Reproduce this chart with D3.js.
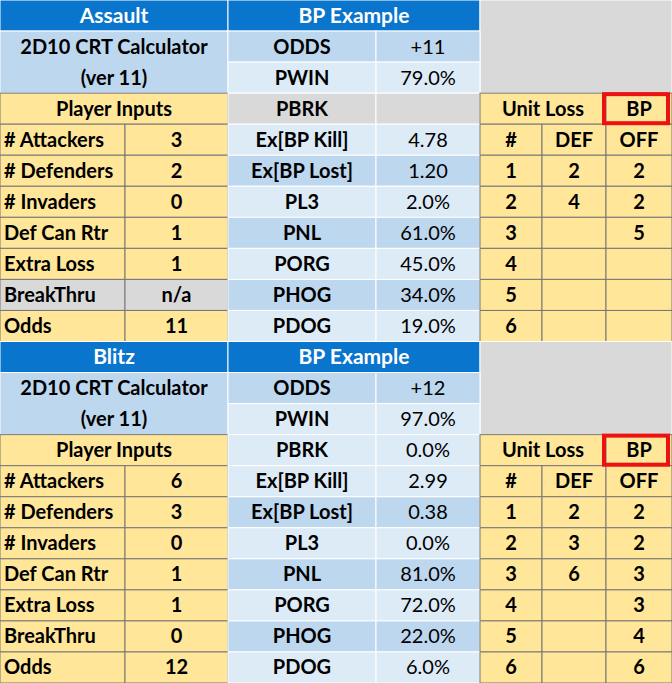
<!DOCTYPE html><html><head><meta charset="utf-8"><script src="https://cdn.jsdelivr.net/npm/d3@7"></script>
<style>body{margin:0;background:#fff}</style></head><body><svg id="c" width="672" height="683"></svg>
<script>
const titles=["Assault","Blitz"];
const oddsVals=["+11","+12"];
const pwinVals=["79.0%","97.0%"];
const pbrkVals=["","0.0%"];
const inputLabels=["# Attackers","# Defenders","# Invaders","Def Can Rtr","Extra Loss","BreakThru","Odds"];
const inputVals=[["3","2","0","1","1","n/a","11"],["6","3","0","1","1","0","12"]];
const statLabels=["Ex[BP Kill]","Ex[BP Lost]","PL3","PNL","PORG","PHOG","PDOG"];
const statVals=[["4.78","1.20","2.0%","61.0%","45.0%","34.0%","19.0%"],["2.99","0.38","0.0%","81.0%","72.0%","22.0%","6.0%"]];
const lossNum=["1","2","3","4","5","6"];
const lossDef=[["2","4","","","",""],["2","3","6","","",""]];
const lossOff=[["2","2","5","","",""],["2","2","3","3","4","6"]];

const colEdges=[0,125,228,376,480,542,606,672];
const x=d3.scaleOrdinal().domain(d3.range(8)).range(colEdges);
const y=d3.scaleLinear().domain([0,22]).range([0,683]);
const svg=d3.select("#c");
const BLUE="#0A75CC",LB="#BDD7EE",VLB="#DDEBF7",YEL="#FFE699",GR="#D9D9D9";
const cells=[];
function cell(r,c0,c1,t,fill,opt={}){cells.push({r,c0,c1,rs:opt.rs||1,t,fill,color:opt.color||"#000",stroke:opt.stroke||"#fff",anchor:opt.anchor||"middle",size:opt.size||20});}
[0,1].forEach(b=>{
  const o=b*11;
  cell(o,0,2,titles[b],BLUE,{color:"#fff",size:21});
  cell(o,2,4,"BP Example",BLUE,{color:"#fff",size:21});
  cell(o,4,7,"",GR,{rs:3});
  cell(o+1,0,2,"",LB,{rs:2});
  cell(o+1,2,3,"ODDS",LB);cell(o+1,3,4,oddsVals[b],LB);
  cell(o+2,2,3,"PWIN",VLB);cell(o+2,3,4,pwinVals[b],VLB);
  cell(o+3,0,2,"Player Inputs",YEL,{stroke:"#777"});
  const pf=b===0?GR:VLB;
  cell(o+3,2,3,"PBRK",pf);cell(o+3,3,4,pbrkVals[b],pf);
  cell(o+3,4,6,"Unit Loss",YEL,{stroke:"#777"});
  cell(o+3,6,7,"BP",YEL,{stroke:"#777"});
  inputLabels.forEach((l,i)=>{
    const f=(b===0&&i===5)?GR:YEL;
    cell(o+4+i,0,1,l,f,{stroke:"#777",anchor:"start"});
    cell(o+4+i,1,2,inputVals[b][i],f,{stroke:"#777"});
    const sf=i%2===0?VLB:LB;
    cell(o+4+i,2,3,statLabels[i],sf);cell(o+4+i,3,4,statVals[b][i],sf);
    if(i===0){["#","DEF","OFF"].forEach((h,k)=>cell(o+4,4+k,5+k,h,YEL,{stroke:"#777"}));}
    else{cell(o+4+i,4,5,lossNum[i-1],YEL,{stroke:"#777"});cell(o+4+i,5,6,lossDef[b][i-1],YEL,{stroke:"#777"});cell(o+4+i,6,7,lossOff[b][i-1],YEL,{stroke:"#777"});}
  });
});
const g=svg.selectAll("g.cell").data(cells).join("g");
g.append("rect").attr("x",d=>x(d.c0)).attr("y",d=>y(d.r)).attr("width",d=>x(d.c1)-x(d.c0)).attr("height",d=>y(d.r+d.rs)-y(d.r))
 .attr("fill",d=>d.fill).attr("stroke",d=>d.stroke).attr("stroke-width",1);
g.append("text").attr("x",d=>d.anchor==="start"?x(d.c0)+4:(x(d.c0)+x(d.c1))/2).attr("y",d=>(y(d.r)+y(d.r+1))/2+7)
 .attr("text-anchor",d=>d.anchor).attr("fill",d=>d.color).style("font-family","Lato, 'Open Sans', sans-serif")
 .style("font-weight",d=>d.c0===3?"400":"700").style("font-size",d=>d.size+"px").text(d=>d.t);
[0,1].forEach(b=>{
  const o=b*11;
  [["2D10 CRT Calculator",1],["(ver 11)",2]].forEach(([t,k])=>
    svg.append("text").attr("x",(x(0)+x(2))/2).attr("y",(y(o+k)+y(o+k+1))/2+7).attr("text-anchor","middle").style("font-family","Lato, sans-serif").style("font-weight","700").style("font-size","20px").text(t));
  svg.append("rect").attr("x",x(6)-2).attr("y",y(o+3)+1).attr("width",x(7)-x(6)-2).attr("height",y(o+4)-y(o+3)-2).attr("fill","none").attr("stroke","#ee1111").attr("stroke-width",4);
});
</script></body></html>
